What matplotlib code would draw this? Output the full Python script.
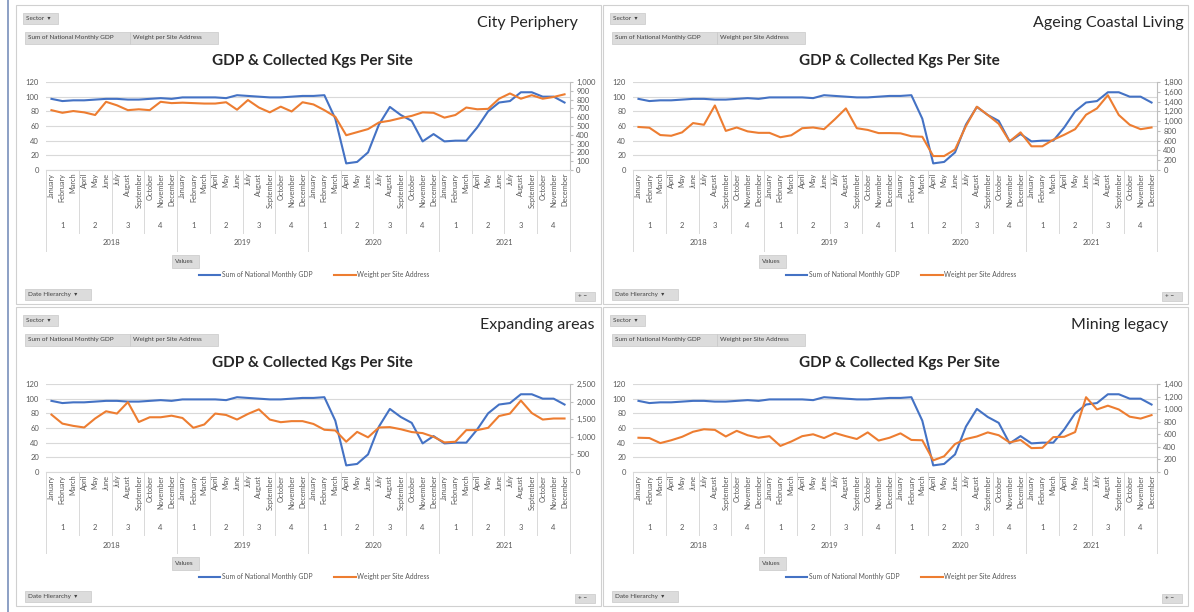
import matplotlib
matplotlib.use("Agg")
import matplotlib.pyplot as plt
from matplotlib import transforms
from matplotlib.patches import Rectangle
from matplotlib.lines import Line2D
from matplotlib.ticker import FuncFormatter

plt.rcParams["font.family"] = ["Lato", "DejaVu Sans"]

# data
month_names = ["January", "February", "March", "April", "May", "June", "July",
               "August", "September", "October", "November", "December"]
years = ["2018", "2019", "2020", "2021"]
quarters = ["1", "2", "3", "4"]
months = month_names * len(years)

national_gdp = [97, 94, 95, 95, 96, 97, 97, 96, 96, 97, 98, 97,
                99, 99, 99, 99, 98, 102, 101, 100, 99, 99, 100, 101,
                101, 102, 70, 9, 11, 24, 62, 86, 75, 67, 39, 49,
                39, 40, 40, 58, 80, 92, 94, 106, 106, 100, 100, 92]

city_periphery = [680, 650, 670, 655, 625, 775, 735, 680, 690, 680, 775, 760,
                  765, 760, 755, 755, 770, 685, 795, 710, 655, 720, 665, 770,
                  745, 680, 605, 395, 430, 465, 540, 560, 590, 615, 655, 650,
                  595, 625, 710, 690, 695, 810, 870, 810, 850, 810, 830, 860]

ageing_coastal = [880, 865, 715, 700, 770, 960, 925, 1320, 800, 870, 790, 760,
                  760, 670, 710, 855, 870, 835, 1040, 1260, 855, 820, 755, 755,
                  750, 690, 680, 285, 285, 420, 900, 1295, 1125, 945, 585, 770,
                  485, 485, 620, 720, 835, 1130, 1260, 1530, 1125, 925, 835, 870]

expanding_areas = [1630, 1375, 1310, 1265, 1520, 1725, 1660, 1985, 1420, 1555, 1555, 1600,
                   1535, 1255, 1350, 1660, 1620, 1490, 1650, 1780, 1490, 1415, 1445, 1445,
                   1365, 1200, 1180, 860, 1140, 985, 1265, 1275, 1215, 1135, 1105, 1000,
                   840, 860, 1190, 1190, 1255, 1590, 1660, 2030, 1675, 1490, 1520, 1520]

mining_legacy = [545, 540, 460, 505, 560, 640, 680, 670, 565, 655, 585, 545,
                 570, 415, 485, 570, 600, 540, 620, 570, 525, 630, 500, 545,
                 615, 510, 505, 185, 250, 445, 525, 565, 630, 585, 470, 510,
                 380, 385, 555, 560, 635, 1190, 995, 1055, 995, 880, 850, 905]

series_labels = ["Sum of National Monthly GDP", "Weight per Site Address"]
chart_title = "GDP & Collected Kgs Per Site"

W, H = 1194, 612
GREY_TXT = "#595959"
GRID = "#d9d9d9"
BLUE = "#4472C4"
ORANGE = "#ED7D31"


def fx(x):
    return x / W


def fy(y):
    return 1 - y / H


def add_button(fig, x0, y0, w, h, text, fs=4.6):
    fig.patches.append(Rectangle((fx(x0), fy(y0 + h)), w / W, h / H,
                                 transform=fig.transFigure, facecolor="#dcdcdc",
                                 edgecolor="#c8c8c8", lw=0.5))
    fig.text(fx(x0 + 3), fy(y0 + h / 2), text, fontsize=fs, color="#404040",
             ha="left", va="center")


def draw_panel(fig, px0, py0, name, name_right, weights, ymax, ystep):
    # panel frame, kept below the axes
    fig.patches.append(Rectangle((fx(px0), fy(py0 + 299)), 585 / W, 299 / H,
                                 transform=fig.transFigure, facecolor="white",
                                 edgecolor="#d0d0d0", lw=0.8, zorder=-5))

    add_button(fig, px0 + 7, py0 + 8, 35, 11, "Sector  \u25be")
    add_button(fig, px0 + 9, py0 + 27, 105, 12, "Sum of National Monthly GDP")
    add_button(fig, px0 + 114, py0 + 27, 88, 12, "Weight per Site Address")
    add_button(fig, px0 + 156, py0 + 250, 27, 13, "Values")
    add_button(fig, px0 + 9, py0 + 284, 66, 11, "Date Hierarchy  \u25be")
    add_button(fig, px0 + 559, py0 + 287, 20, 9, "+ \u2212")

    fig.text(fx(px0 + name_right), fy(py0 + 18), name, fontsize=11.5,
             color="#262626", ha="right", va="center")
    fig.text(fx(px0 + 296), fy(py0 + 56), chart_title, fontsize=11,
             fontweight="bold", color="#262626", ha="center", va="center")

    ax = fig.add_axes([fx(px0 + 30), fy(py0 + 165), 524 / W, 88 / H])
    ax.patch.set_alpha(0)
    x = list(range(len(months)))
    l1, = ax.plot(x, national_gdp, color=BLUE, lw=1.5, zorder=3)
    ax.set_xlim(-0.5, len(months) - 0.5)
    ax.set_ylim(0, 120)
    ax.set_yticks(range(0, 121, 20))
    ax.grid(axis="y", color=GRID, lw=0.8)
    ax.set_axisbelow(True)
    for s in ["top", "left", "right"]:
        ax.spines[s].set_visible(False)
    ax.spines["bottom"].set_color(GRID)
    ax.tick_params(axis="y", length=0, labelsize=5.5, labelcolor=GREY_TXT, pad=5)
    ax.set_xticks(x)
    ax.set_xticklabels(months, rotation=90, fontsize=5.3, color=GREY_TXT)
    ax.tick_params(axis="x", length=0, pad=2)

    ax2 = ax.twinx()
    l2, = ax2.plot(x, weights, color=ORANGE, lw=1.5, zorder=4)
    ax2.set_ylim(0, ymax)
    ax2.set_yticks(range(0, ymax + 1, ystep))
    ax2.yaxis.set_major_formatter(FuncFormatter(lambda v, p: f"{int(v):,}"))
    for s in ["top", "left", "bottom"]:
        ax2.spines[s].set_visible(False)
    ax2.spines["right"].set_color("#bfbfbf")
    ax2.tick_params(axis="y", length=2.5, color="#bfbfbf", labelsize=5.5,
                    labelcolor=GREY_TXT, pad=2)

    # multi-level category axis: quarters and years
    tr = transforms.blended_transform_factory(ax.transData, fig.transFigure)
    for iq in range(len(years) * len(quarters)):
        xc = iq * 3 + 1
        fig.text(xc, fy(py0 + 220), quarters[iq % 4], transform=tr,
                 fontsize=5.5, color=GREY_TXT, ha="center", va="center")
    for iy, yr in enumerate(years):
        fig.text(iy * 12 + 5.5, fy(py0 + 238), yr, transform=tr,
                 fontsize=5.5, color=GREY_TXT, ha="center", va="center")
    for b in range(0, len(months) + 1, 3):
        y_end = py0 + 246 if b % 12 == 0 else py0 + 228
        fig.lines.append(Line2D([b - 0.5, b - 0.5], [fy(py0 + 165), fy(y_end)],
                                transform=tr, color=GRID, lw=0.7))

    ax.legend([l1, l2], series_labels, loc="center",
              bbox_to_anchor=(fx(px0 + 298), fy(py0 + 270)),
              bbox_transform=fig.transFigure, ncol=2, frameon=False,
              fontsize=4.9, labelcolor=GREY_TXT, handlelength=3.2,
              columnspacing=3.2, handletextpad=0.2)


fig = plt.figure(figsize=(W / 100, H / 100), dpi=100)
fig.patches.append(Rectangle((fx(6.5), 0), 2.5 / W, 1, transform=fig.transFigure,
                             facecolor="#8fa2c6", edgecolor="none"))

draw_panel(fig, 16, 5, "City Periphery", 562, city_periphery, 1000, 100)
draw_panel(fig, 603, 5, "Ageing Coastal Living", 581, ageing_coastal, 1800, 200)
draw_panel(fig, 16, 307, "Expanding areas", 579, expanding_areas, 2500, 500)
draw_panel(fig, 603, 307, "Mining legacy", 565, mining_legacy, 1400, 200)

fig.savefig("out.png", dpi=100)
